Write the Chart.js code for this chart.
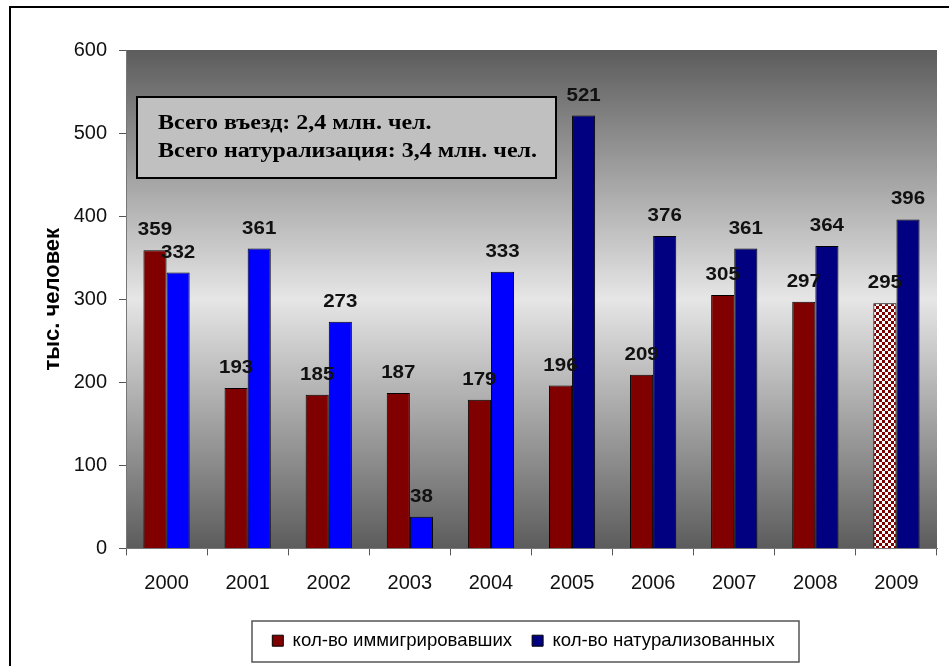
<!DOCTYPE html>
<html lang="ru">
<head>
<meta charset="UTF-8">
<title>Иммиграция и натурализация</title>
<script src="https://cdn.jsdelivr.net/npm/chart.js"></script>
<style>
  html, body { margin: 0; padding: 0; background: #fff; }
  #wrap { width: 949px; height: 666px; }
</style>
</head>
<body>
<div id="wrap"><canvas id="chart"></canvas></div>
<script>
const years = ['2000', '2001', '2002', '2003', '2004', '2005', '2006', '2007', '2008', '2009'];
const immigrated = [359, 193, 185, 187, 179, 196, 209, 305, 297, 295];
const naturalized = [332, 361, 273, 38, 333, 521, 376, 361, 364, 396];
const seriesNames = ['кол-во иммигрировавших', 'кол-во натурализованных'];
const noteLines = ['Всего въезд: 2,4 млн. чел.', 'Всего натурализация: 3,4 млн. чел.'];
const yTicks = [0, 100, 200, 300, 400, 500, 600];

// checkered fill for the last (estimated) bar
const pc = document.createElement('canvas');
pc.width = 6; pc.height = 6;
const pctx = pc.getContext('2d');
pctx.fillStyle = '#fff';
pctx.fillRect(0, 0, 6, 6);
pctx.fillStyle = '#800000';
pctx.fillRect(0, 0, 3, 3);
pctx.fillRect(3, 3, 3, 3);
const checker = pctx.createPattern(pc, 'repeat');

const redColors = years.map((y, i) => i === years.length - 1 ? checker : '#800000');
const blueColors = years.map((y, i) => i < 5 ? '#0000ff' : '#000080');

// text stretched a little sideways, like the source picture
function wideText(ctx, txt, x, y, sx) {
  ctx.save();
  ctx.translate(x, y);
  ctx.scale(sx, 1);
  ctx.fillText(txt, 0, 0);
  ctx.restore();
}

const decor = {
  id: 'decor',
  afterLayout(chart) {
    // legend sits a bit right of centre in the original
    chart.legend.left += 55;
    chart.legend.right += 55;
  },
  beforeDraw(chart) {
    const { ctx, chartArea: a } = chart;
    ctx.save();
    const g = ctx.createLinearGradient(0, a.top, 0, a.bottom);
    g.addColorStop(0, '#5c5c5c');
    g.addColorStop(0.5, '#e6e6e6');
    g.addColorStop(1, '#5c5c5c');
    ctx.fillStyle = g;
    ctx.fillRect(a.left, a.top, a.right - a.left, a.bottom - a.top);
    // frame: only top and left edges are visible
    ctx.strokeStyle = '#000';
    ctx.lineWidth = 2;
    ctx.beginPath();
    ctx.moveTo(949, 7);
    ctx.lineTo(10, 7);
    ctx.lineTo(10, 666);
    ctx.stroke();
    ctx.restore();
  },
  afterDatasetsDraw(chart) {
    const { ctx } = chart;
    ctx.save();
    ctx.font = 'bold 19px "Liberation Sans", Arial, sans-serif';
    ctx.fillStyle = '#111';
    ctx.textAlign = 'center';
    ctx.textBaseline = 'alphabetic';
    chart.data.datasets.forEach((ds, di) => {
      chart.getDatasetMeta(di).data.forEach((bar, i) => {
        wideText(ctx, String(ds.data[i]), bar.x, bar.y - 15, 1.08);
      });
    });
    // note box
    ctx.fillStyle = '#c0c0c0';
    ctx.fillRect(137, 97, 419, 81);
    ctx.strokeStyle = '#000';
    ctx.lineWidth = 2;
    ctx.strokeRect(137, 97, 419, 81);
    ctx.fillStyle = '#000';
    ctx.textAlign = 'left';
    ctx.textBaseline = 'middle';
    ctx.font = 'bold 20px "Liberation Serif", "Times New Roman", serif';
    wideText(ctx, noteLines[0], 158, 124, 1.2);
    wideText(ctx, noteLines[1], 158, 152, 1.2);
    // legend frame
    const boxes = chart.legend.legendHitBoxes;
    if (boxes && boxes.length) {
      const l = Math.min(...boxes.map(b => b.left));
      const r = Math.max(...boxes.map(b => b.left + b.width));
      const t = Math.min(...boxes.map(b => b.top));
      const h = boxes[0].height;
      ctx.strokeStyle = '#555';
      ctx.lineWidth = 1.5;
      ctx.strokeRect(Math.round(l - 20), Math.round(t - 10), Math.round(r - l + 45), Math.round(h + 22));
    }
    ctx.restore();
  }
};

const axisFont = '"Liberation Sans", Arial, sans-serif';

new Chart(document.getElementById('chart'), {
  type: 'bar',
  data: {
    labels: years,
    datasets: [
      { label: seriesNames[0], data: immigrated, backgroundColor: redColors, borderColor: '#000', borderWidth: 1 },
      { label: seriesNames[1], data: naturalized, backgroundColor: blueColors, borderColor: '#000', borderWidth: 1 }
    ]
  },
  options: {
    responsive: true,
    maintainAspectRatio: false,
    animation: false,
    layout: { padding: { top: 50, left: 0, right: 12, bottom: 6 } },
    datasets: { bar: { categoryPercentage: 0.57, barPercentage: 1.0 } },
    scales: {
      x: {
        grid: { display: true, drawOnChartArea: false, color: '#555', tickLength: 7 },
        border: { color: '#777' },
        ticks: { color: '#111', font: { family: axisFont, size: 20 }, padding: 16 },
        afterFit(s) { s.height = 63; }
      },
      y: {
        min: 0, max: 600,
        afterBuildTicks(s) { s.ticks = yTicks.map(v => ({ value: v })); },
        grid: { display: true, drawOnChartArea: false, color: '#555', tickLength: 7 },
        border: { color: '#777' },
        ticks: { color: '#111', font: { family: axisFont, size: 20 }, padding: 12 },
        title: { display: true, text: 'тыс. человек', color: '#000', font: { family: axisFont, size: 22, weight: 'bold' }, padding: { top: 40, bottom: 0 } },
        afterFit(s) { s.width = 126; }
      }
    },
    plugins: {
      legend: {
        position: 'bottom',
        labels: {
          color: '#000',
          boxWidth: 11, boxHeight: 11,
          font: { family: axisFont, size: 18.6 },
          padding: 20,
          generateLabels(chart) {
            return seriesNames.map((n, i) => ({
              text: n,
              fillStyle: i === 0 ? '#800000' : '#000080',
              strokeStyle: '#000',
              lineWidth: 1,
              datasetIndex: i,
              fontColor: '#000'
            }));
          }
        }
      },
      tooltip: { enabled: false }
    }
  },
  plugins: [decor]
});
</script>
</body>
</html>
